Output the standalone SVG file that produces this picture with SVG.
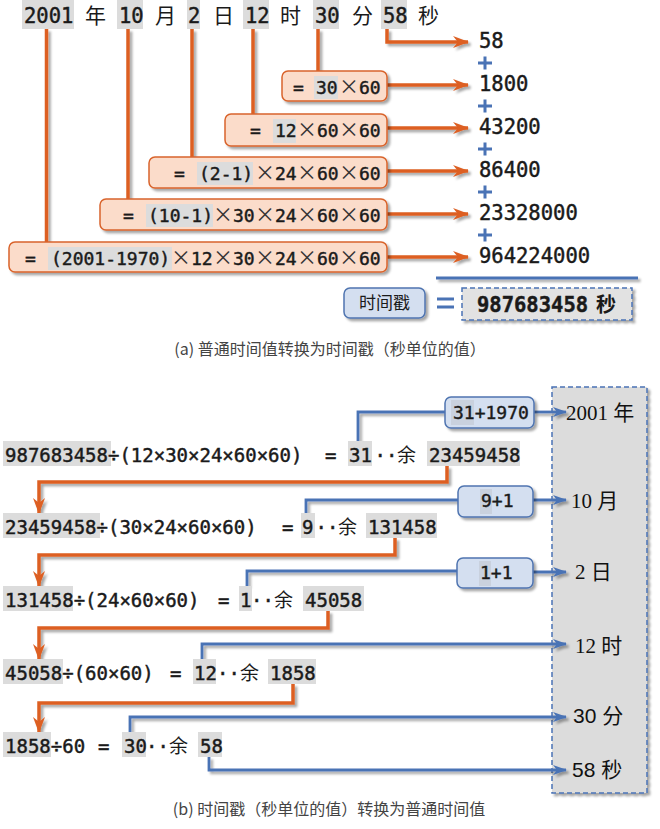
<svg xmlns="http://www.w3.org/2000/svg" width="660" height="829" viewBox="0 0 660 829">
<defs>
<filter id="sh" filterUnits="userSpaceOnUse" x="0" y="0" width="660" height="829"><feDropShadow dx="2.5" dy="2.5" stdDeviation="1.3" flood-color="#000" flood-opacity="0.35"/></filter>
<marker id="ao" viewBox="0 0 16 12" refX="15" refY="6" markerWidth="16" markerHeight="12" markerUnits="userSpaceOnUse" orient="auto"><path d="M0,0 L16,6 L0,12 L5,6 Z" fill="#dd5f22"/></marker>
<marker id="ab" viewBox="0 0 14 10" refX="13" refY="5" markerWidth="14" markerHeight="10" markerUnits="userSpaceOnUse" orient="auto"><path d="M0,0 L14,5 L0,10 L4,5 Z" fill="#4a73b5"/></marker>
<style>
.m{font-family:"DejaVu Sans Mono",monospace;fill:#1a1a1a;stroke:#1a1a1a;stroke-width:0.45}
.t{font-size:20.5px}
.b{font-size:18px}
.r{font-size:19px}
.cjk{font-family:"Noto Sans CJK SC",sans-serif;fill:#1a1a1a}
.hl{fill:#dcdcdc}
.ob{fill:#fbdcca;stroke:#d9632b;stroke-width:1.5}
.bb{fill:#d4dff0;stroke:#4f74b0;stroke-width:1.5}
.ol{fill:none;stroke:#dd5f22;stroke-width:3.5}
.bl{fill:none;stroke:#4a73b5;stroke-width:2.8}
.x{font-family:"Noto Sans CJK SC",sans-serif;font-size:20px;fill:#333;text-anchor:middle}
.cap{font-family:"Noto Sans CJK SC",sans-serif;font-size:16px;fill:#444;text-anchor:middle}
.lbs{font-family:"Liberation Serif","Noto Sans CJK SC",serif;font-size:21px;fill:#111}
.lbn{font-family:"Liberation Sans","Noto Sans CJK SC",sans-serif;font-size:21px;fill:#111}
.plus{stroke:#4a73b5;stroke-width:3;fill:none}
</style>
</defs>
<rect width="660" height="829" fill="#fff"/>

<!-- result column (drawn under connectors) -->
<g id="result-column">
<rect filter="url(#sh)" x="552" y="387" width="95" height="406" fill="#dcdcdc" stroke="#4a73b5" stroke-width="1.5" stroke-dasharray="5,3"/>
<text class="lbs" x="566" y="420">2001 年</text>
<text class="lbs" x="571" y="508">10 月</text>
<text class="lbs" x="575" y="579">2 日</text>
<text class="lbs" x="575" y="653">12 时</text>
<text class="lbn" x="573" y="723">30 分</text>
<text class="lbn" x="572" y="777">58 秒</text>
</g>

<!-- top row -->
<g id="date-row">
<rect class="hl" x="22" y="0" width="52" height="29"/>
<rect class="hl" x="117" y="0" width="26" height="29"/>
<rect class="hl" x="187" y="0" width="13" height="29"/>
<rect class="hl" x="243" y="0" width="26" height="29"/>
<rect class="hl" x="313" y="0" width="26" height="29"/>
<rect class="hl" x="381" y="0" width="26" height="29"/>
<text class="m t" x="24" y="23">2001</text>
<text class="cjk" font-size="21" x="85" y="23">年</text>
<text class="m t" x="119" y="23">10</text>
<text class="cjk" font-size="21" x="155" y="23">月</text>
<text class="m t" x="188" y="23">2</text>
<text class="cjk" font-size="21" x="213" y="23">日</text>
<text class="m t" x="245" y="23">12</text>
<text class="cjk" font-size="21" x="280" y="23">时</text>
<text class="m t" x="315" y="23">30</text>
<text class="cjk" font-size="21" x="352" y="23">分</text>
<text class="m t" x="383" y="23">58</text>
<text class="cjk" font-size="21" x="418" y="23">秒</text>
</g>

<!-- connectors -->
<g id="connectors" filter="url(#sh)">
<path class="ol" d="M46.5,29 V242"/>
<path class="ol" d="M128,29 V199"/>
<path class="ol" d="M192,29 V157"/>
<path class="ol" d="M253,29 V114"/>
<path class="ol" d="M318,29 V71"/>
<path class="ol" d="M387,29 V42 H468" marker-end="url(#ao)"/>
<path class="ol" d="M387,85 H468" marker-end="url(#ao)"/>
<path class="ol" d="M387,128 H468" marker-end="url(#ao)"/>
<path class="ol" d="M387,171 H468" marker-end="url(#ao)"/>
<path class="ol" d="M387,214 H468" marker-end="url(#ao)"/>
<path class="ol" d="M387,257 H468" marker-end="url(#ao)"/>
<path class="bl" d="M436,278 H638"/>

<path class="ol" d="M447,466 V482 H39 V513" marker-end="url(#ao)"/>
<path class="ol" d="M395,538 V555 H39 V586" marker-end="url(#ao)"/>
<path class="ol" d="M328,611 V628 H39 V659" marker-end="url(#ao)"/>
<path class="ol" d="M293,684 V703 H39 V732" marker-end="url(#ao)"/>

<path class="bl" d="M358,441 V412 H445"/>
<path class="bl" d="M534,412 H566" marker-end="url(#ab)"/>
<path class="bl" d="M306,513 V500 H458"/>
<path class="bl" d="M533,500 H566" marker-end="url(#ab)"/>
<path class="bl" d="M247,586 V571 H457"/>
<path class="bl" d="M533,572 H566" marker-end="url(#ab)"/>
<path class="bl" d="M202,659 V644 H566" marker-end="url(#ab)"/>
<path class="bl" d="M130,732 V717 H566" marker-end="url(#ab)"/>
<path class="bl" d="M209,757 V770 H566" marker-end="url(#ab)"/>
</g>

<!-- boxes part a -->
<g id="box-min">
<rect class="ob" filter="url(#sh)" x="282" y="71" width="105" height="30" rx="6"/>
<rect class="hl" x="314" y="76" width="24" height="23"/>
<text class="m b" x="293" y="94">=</text>
<text class="m b" x="316" y="94">30</text>
<text class="x" x="349" y="94">×</text>
<text class="m b" x="359" y="94">60</text>
</g>
<g id="box-hour">
<rect class="ob" filter="url(#sh)" x="225" y="114" width="162" height="32" rx="6"/>
<rect class="hl" x="273" y="119" width="23" height="24"/>
<text class="m b" x="250" y="137">=</text>
<text class="m b" x="275" y="137">12</text>
<text class="x" x="307" y="137">×</text>
<text class="m b" x="317" y="137">60</text>
<text class="x" x="349" y="137">×</text>
<text class="m b" x="359" y="137">60</text>
</g>
<g id="box-day">
<rect class="ob" filter="url(#sh)" x="149" y="157" width="238" height="31" rx="6"/>
<rect class="hl" x="197" y="162" width="56" height="23"/>
<text class="m b" x="174" y="180">=</text>
<text class="m b" x="199" y="180">(2-1)</text>
<text class="x" x="265" y="180">×</text>
<text class="m b" x="275" y="180">24</text>
<text class="x" x="307" y="180">×</text>
<text class="m b" x="317" y="180">60</text>
<text class="x" x="349" y="180">×</text>
<text class="m b" x="359" y="180">60</text>
</g>
<g id="box-month">
<rect class="ob" filter="url(#sh)" x="100" y="199" width="287" height="31" rx="6"/>
<rect class="hl" x="146" y="204" width="67" height="23"/>
<text class="m b" x="123" y="222">=</text>
<text class="m b" x="148" y="222">(10-1)</text>
<text class="x" x="223" y="222">×</text>
<text class="m b" x="233" y="222">30</text>
<text class="x" x="265" y="222">×</text>
<text class="m b" x="275" y="222">24</text>
<text class="x" x="307" y="222">×</text>
<text class="m b" x="317" y="222">60</text>
<text class="x" x="349" y="222">×</text>
<text class="m b" x="359" y="222">60</text>
</g>
<g id="box-year">
<rect class="ob" filter="url(#sh)" x="9" y="242" width="378" height="30" rx="6"/>
<rect class="hl" x="48" y="247" width="124" height="23"/>
<text class="m b" x="25" y="265">=</text>
<text class="m b" x="51" y="265">(2001-1970)</text>
<text class="x" x="181" y="265">×</text>
<text class="m b" x="191" y="265">12</text>
<text class="x" x="223" y="265">×</text>
<text class="m b" x="233" y="265">30</text>
<text class="x" x="265" y="265">×</text>
<text class="m b" x="275" y="265">24</text>
<text class="x" x="307" y="265">×</text>
<text class="m b" x="317" y="265">60</text>
<text class="x" x="349" y="265">×</text>
<text class="m b" x="359" y="265">60</text>
</g>

<g id="sum-column">
<text class="m t" x="479" y="48">58</text>
<text class="m t" x="479" y="91">1800</text>
<text class="m t" x="479" y="134">43200</text>
<text class="m t" x="479" y="177">86400</text>
<text class="m t" x="479" y="220">23328000</text>
<text class="m t" x="479" y="263">964224000</text>
<path class="plus" d="M478,63 H492 M485,56.5 V69.5 M478,106 H492 M485,99.5 V112.5 M478,149 H492 M485,142.5 V155.5 M478,192 H492 M485,185.5 V198.5 M478,235 H492 M485,228.5 V241.5"/>
</g>

<g id="timestamp-label">
<rect class="bb" filter="url(#sh)" x="344" y="288" width="81" height="30" rx="6"/>
<text class="cjk" font-size="17" fill="#333" x="384.5" y="309" text-anchor="middle">时间戳</text>
</g>
<g id="equals">
<path d="M437,299 H454 M437,307 H454" stroke="#4a73b5" stroke-width="3"/>
</g>
<g id="timestamp-value">
<rect filter="url(#sh)" x="462" y="288" width="170" height="32" fill="#e2e2e2" stroke="#4a73b5" stroke-width="1.5" stroke-dasharray="5,3"/>
<text class="m t" font-weight="bold" x="477" y="312">987683458</text>
<text class="cjk" font-size="20" font-weight="bold" x="596" y="312">秒</text>
</g>
<text class="cap" x="330" y="355">(a) 普通时间值转换为时间戳（秒单位的值）</text>

<!-- part b -->
<g id="row1">
<rect class="hl" x="3" y="441" width="108" height="25"/>
<rect class="hl" x="348" y="441" width="24" height="25"/>
<rect class="hl" x="427" y="441" width="93" height="25"/>
<text class="m r" x="5" y="462">987683458÷(12×30×24×60×60)</text>
<text class="m r" x="325" y="462">=</text>
<text class="m r" x="349" y="462">31</text>
<text class="m r" x="374.5" y="462">··</text>
<text class="cjk" font-size="19" x="397" y="462">余</text>
<text class="m r" x="429" y="462">23459458</text>
</g>
<g id="row2">
<rect class="hl" x="3" y="513" width="97" height="25"/>
<rect class="hl" x="301" y="513" width="14" height="25"/>
<rect class="hl" x="366" y="513" width="71" height="25"/>
<text class="m r" x="5" y="534">23459458÷(30×24×60×60)</text>
<text class="m r" x="282" y="534">=</text>
<text class="m r" x="302" y="534">9</text>
<text class="m r" x="315.5" y="534">··</text>
<text class="cjk" font-size="19" x="338" y="534">余</text>
<text class="m r" x="368" y="534">131458</text>
</g>
<g id="row3">
<rect class="hl" x="3" y="586" width="70" height="25"/>
<rect class="hl" x="239" y="586" width="13" height="25"/>
<rect class="hl" x="303" y="586" width="61" height="25"/>
<text class="m r" x="5" y="607">131458÷(24×60×60)</text>
<text class="m r" x="218" y="607">=</text>
<text class="m r" x="240" y="607">1</text>
<text class="m r" x="251" y="607">··</text>
<text class="cjk" font-size="19" x="274" y="607">余</text>
<text class="m r" x="305" y="607">45058</text>
</g>
<g id="row4">
<rect class="hl" x="3" y="659" width="60" height="25"/>
<rect class="hl" x="193" y="659" width="23" height="25"/>
<rect class="hl" x="268" y="659" width="48" height="25"/>
<text class="m r" x="5" y="680">45058÷(60×60)</text>
<text class="m r" x="170" y="680">=</text>
<text class="m r" x="194" y="680">12</text>
<text class="m r" x="217" y="680">··</text>
<text class="cjk" font-size="19" x="240" y="680">余</text>
<text class="m r" x="270" y="680">1858</text>
</g>
<g id="row5">
<rect class="hl" x="3" y="732" width="48" height="25"/>
<rect class="hl" x="122" y="732" width="24" height="25"/>
<rect class="hl" x="198" y="732" width="24" height="25"/>
<text class="m r" x="5" y="753">1858÷60</text>
<text class="m r" x="98" y="753">=</text>
<text class="m r" x="124" y="753">30</text>
<text class="m r" x="146" y="753">··</text>
<text class="cjk" font-size="19" x="169" y="753">余</text>
<text class="m r" x="200" y="753">58</text>
</g>

<g id="box-year-b">
<rect class="bb" filter="url(#sh)" x="445" y="397" width="89" height="31" rx="6"/>
<rect x="451" y="400" width="23" height="25" fill="#c9d1de"/>
<text class="m b" x="453" y="419">31+1970</text>
</g>
<g id="box-month-b">
<rect class="bb" filter="url(#sh)" x="458" y="486" width="75" height="31" rx="6"/>
<rect x="480" y="489" width="12" height="25" fill="#c9d1de"/>
<text class="m b" x="481" y="507">9+1</text>
</g>
<g id="box-day-b">
<rect class="bb" filter="url(#sh)" x="457" y="558" width="76" height="30" rx="6"/>
<rect x="479" y="561" width="12" height="25" fill="#c9d1de"/>
<text class="m b" x="480" y="579">1+1</text>
</g>

<text class="cap" x="329" y="815">(b) 时间戳（秒单位的值）转换为普通时间值</text>
</svg>
